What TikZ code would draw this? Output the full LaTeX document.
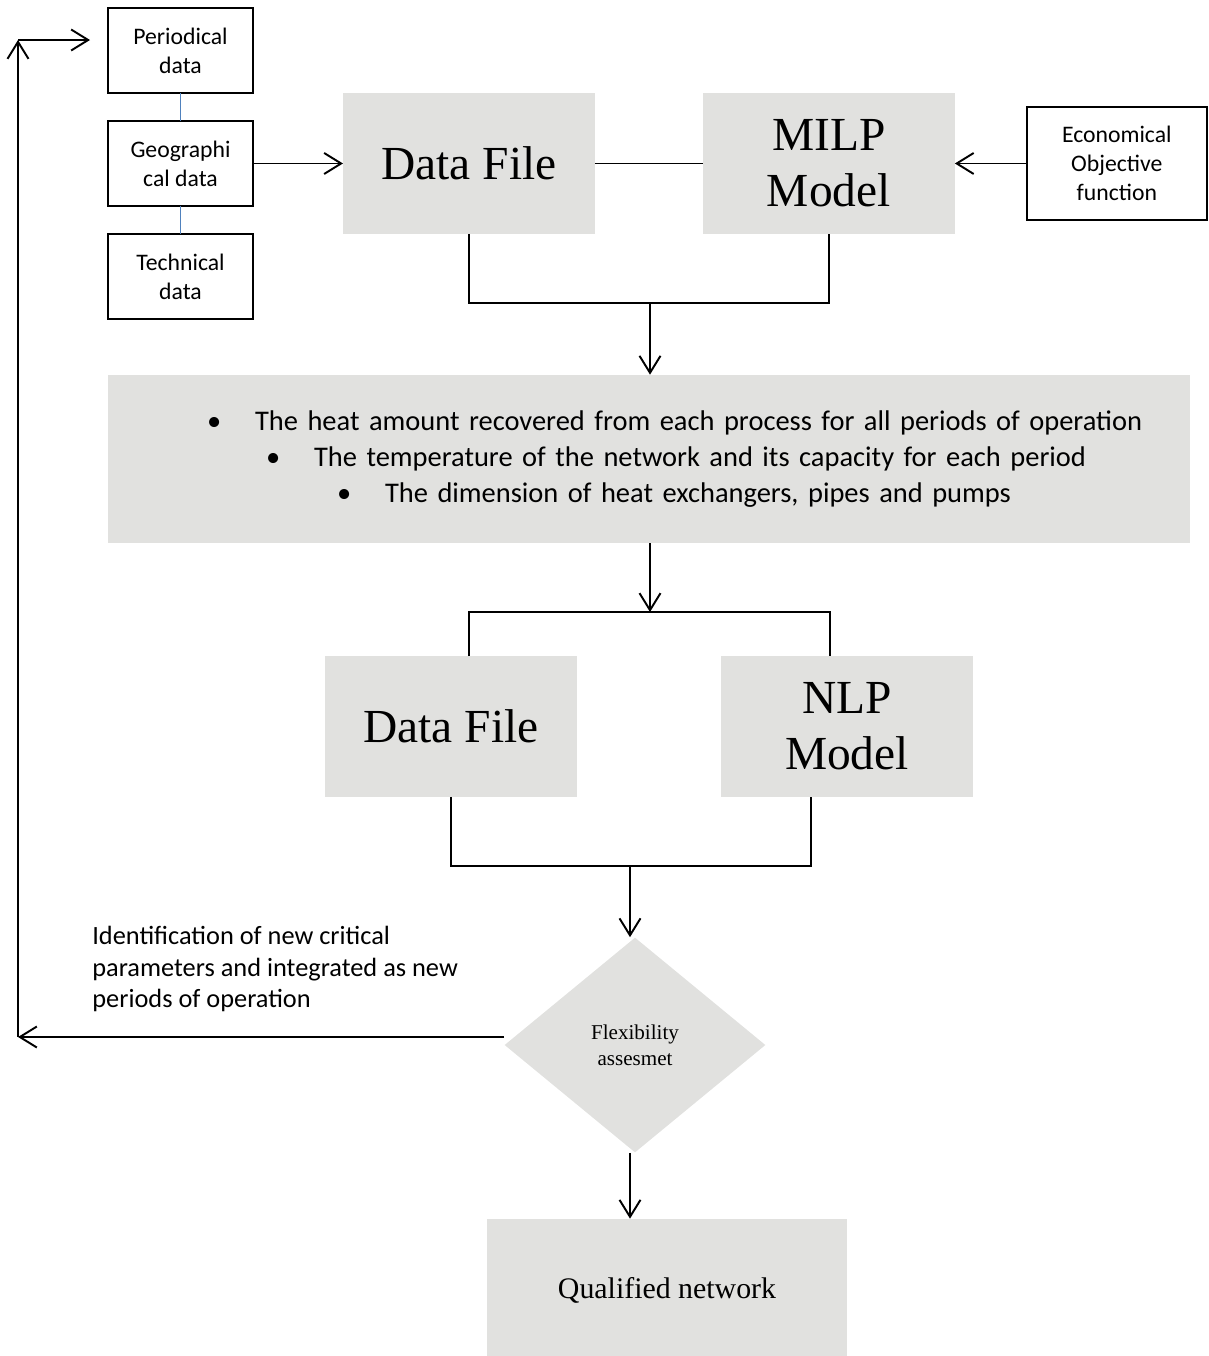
\documentclass[tikz,border=0pt]{standalone}
\usepackage{fontspec}
\setmainfont{Liberation Serif}
\newfontfamily\carlito{Carlito}
\usetikzlibrary{arrows.meta,positioning,shapes.geometric}
\definecolor{boxgray}{RGB}{225,225,223}
\definecolor{tieblue}{RGB}{79,129,189}
\newcommand{\bul}[1]{\hspace*{#1}\makebox[0.96cm][l]{\textbullet}}

\begin{document}
\begin{tikzpicture}[
  x=0.02cm, y=-0.02cm,
  databox/.style={draw,line width=1.4pt,minimum width=2.9cm,minimum height=1.7cm,outer sep=0pt,
    align=center,inner sep=1pt,font=\carlito\fontsize{13.5}{16.4}\selectfont},
  graybox/.style={fill=boxgray,minimum width=5.04cm,minimum height=2.82cm,outer sep=0pt,
    align=center,inner sep=1pt,font=\fontsize{27}{32}\selectfont},
  link/.style={line width=1.1pt},
  arr/.style={line width=1.1pt,-{Straight Barb[length=3.4mm,width=4.2mm]}},
  tie/.style={draw=tieblue,line width=0.9pt}
]
  \useasboundingbox (0,0) rectangle (1208,1356);

  % input data
  \node[databox] (per) at (180.5,50.5) {Periodical\\data};
  \node[databox,below=0.56cm of per] (geo) {Geographi\\cal data};
  \node[databox,below=0.56cm of geo] (tec) {Technical\\data};

  % first stage
  \node[graybox,right=1.8cm of geo] (df1) {Data File};
  \node[graybox,right=2.16cm of df1] (milp) {MILP\\Model};
  \node[databox,right=1.44cm of milp,minimum width=3.6cm,minimum height=2.26cm] (eco)
    {Economical\\Objective\\function};

  % results of the MILP
  \node[fill=boxgray,minimum width=21.64cm,minimum height=3.36cm,text width=21.64cm,
    inner sep=0pt,align=left,font=\carlito\fontsize{16.2}{20.4}\selectfont] (info) at (649,459)
    {\bul{1.98cm}The heat amount recovered from each process for all periods of operation\\
     \bul{3.16cm}The temperature of the network and its capacity for each period\\
     \bul{4.58cm}The dimension of heat exchangers, pipes and pumps};

  % second stage
  \node[graybox] (df2) at (451,726.5) {Data File};
  \node[graybox,right=2.88cm of df2] (nlp) {NLP\\Model};

  \node[diamond,fill=boxgray,minimum width=5.22cm,minimum height=4.3cm,inner sep=0pt,
    align=center,font=\fontsize{12}{14.7}\selectfont] (flex) at (635,1045)
    {Flexibility\\assesmet};
  \node[fill=boxgray,minimum width=7.2cm,minimum height=2.84cm,
    font=\fontsize{17}{20}\selectfont] (qual) at (667,1290) {Qualified network};

  \node[anchor=west,align=left,inner sep=0pt,font=\carlito\fontsize{15}{18.1}\selectfont]
    (idtxt) at (92,969)
    {Identification of new critical\\parameters and integrated as new\\periods of operation};

  \coordinate (j1) at (650,303);
  \coordinate (j2) at (650,612);
  \coordinate (j2l) at (469,612);
  \coordinate (j2r) at (830,612);
  \coordinate (j3) at (630,866);
  \coordinate (j3r) at (811,866);
  \coordinate (fbl) at (18,1037);
  \coordinate (fbt) at (18,40);
  \coordinate (fbe) at (90,40);

  % connectors
  \draw[tie] (per) -- (geo);
  \draw[tie] (geo) -- (tec);
  \draw[arr] (geo) -- (df1);
  \draw[link] (df1) -- (milp);
  \draw[arr] (eco) -- (milp);
  \draw[link] (df1.south) |- (j1) -| (milp.south);
  \draw[arr] (j1) -- (j1 |- info.north);
  \draw[arr] (j2 |- info.south) -- (j2);
  \draw[link] (j2l |- df2.north) -- (j2l) -- (j2r) -- (j2r |- nlp.north);
  \draw[link] (df2.south) |- (j3r) -- (j3r |- nlp.south);
  \draw[arr] (j3) -- (j3 |- flex.north);
  \draw[arr] (j3 |- flex.south) -- (j3 |- qual.north);

  % feedback loop
  \draw[arr] (flex.west |- fbl) -- (fbl);
  \draw[arr] (fbl) -- (fbt);
  \draw[arr] (fbt) -- (fbe);
\end{tikzpicture}
\end{document}
